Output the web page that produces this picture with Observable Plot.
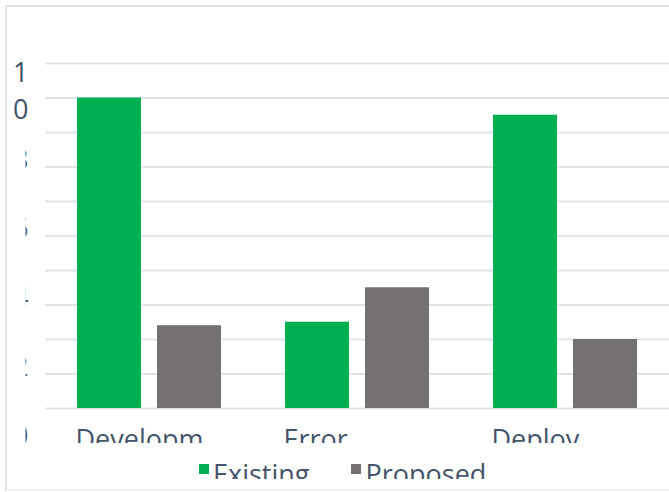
<!DOCTYPE html>
<html>
<head>
<meta charset="utf-8">
<script src="https://cdn.jsdelivr.net/npm/d3@7"></script>
<script src="https://cdn.jsdelivr.net/npm/@observablehq/plot@0.6"></script>
<style>
  html, body { margin: 0; padding: 0; background: #fff; }
  #wrap { position: relative; width: 669px; height: 492px; overflow: hidden; font-family: "Open Sans", sans-serif; color: #44546a; }
  #chart { position: absolute; left: 0; top: 0; width: 669px; height: 443px; overflow: hidden; }
  #frame { position: absolute; left: 5px; top: 5px; width: 700px; height: 482px; border-top: 2px solid #e1e5eb; border-left: 2px solid #e1e5eb; border-bottom: 2px solid #f1f2f4; pointer-events: none; }
  #legend { position: absolute; left: 0; top: 443px; width: 669px; height: 36px; overflow: hidden; display: flex; padding-left: 199px; padding-top: 17px; box-sizing: border-box; font-size: 27px; line-height: 1; }
  .item { display: flex; align-items: flex-start; margin-right: 42px; white-space: nowrap; }
  .sw { width: 10px; height: 10px; margin-top: 4px; margin-right: 4px; flex: none; }
</style>
</head>
<body>
<div id="wrap">
  <div id="chart"></div>
  <div id="legend"></div>
  <div id="frame"></div>
</div>
<script>
// ---- data ----
const categories = ["Developm", "Error", "Deploy"];
const series = ["Existing", "Proposed"];
const existing = [9.0, 2.5, 8.5];
const proposed = [2.4, 3.5, 2.0];
const yTickValues = [10, 8, 6, 4, 2, 0];
const gridValues = [0, 1, 2, 3, 4, 5, 6, 7, 8, 9, 10];
const colors = ["#00b050", "#767171"];

const data = categories.flatMap((c, i) => [
  {category: c, series: series[0], value: existing[i]},
  {category: c, series: series[1], value: proposed[i]}
]);

const chart = Plot.plot({
  width: 669,
  height: 443,
  marginLeft: 44,
  marginRight: 0,
  marginTop: 63,
  marginBottom: 35,
  style: {fontFamily: "'Open Sans', sans-serif", fontSize: "27px", color: "#44546a", background: "transparent", overflow: "hidden"},
  fx: {domain: categories, paddingInner: 0, paddingOuter: 0, label: null},
  x: {domain: series, paddingInner: 0.1975, paddingOuter: 0.386, axis: null},
  y: {domain: [0, 10], label: null},
  color: {domain: series, range: colors},
  marks: [
    Plot.gridY({ticks: gridValues, stroke: "#e1e5eb", strokeOpacity: 1, strokeWidth: 2}),
    Plot.barY(data, {fx: "category", x: "series", y: "value", fill: "series"}),
    Plot.axisY({ticks: yTickValues, tickSize: 0, tickPadding: 17, dy: 25, lineHeight: 1.37, fontSize: 27,
      tickFormat: d => d === 10 ? "1\n0" : String(d), label: null}),
    Plot.axisFx({anchor: "bottom", tickSize: 0, tickPadding: 21, textAnchor: "start", dx: -74, fontSize: 27, label: null})
  ]
});

// labels on the left axis other than the top one are cut to a thin sliver, as in the picture
const svg = d3.select(chart);
svg.insert("defs", ":first-child").append("clipPath").attr("id", "ysliver")
  .append("rect").attr("x", -3).attr("y", -60).attr("width", 8).attr("height", 120);
svg.selectAll('[aria-label="y-axis tick label"] text').each(function() {
  if (this.textContent.length === 1) this.setAttribute("clip-path", "url(#ysliver)");
});

document.getElementById("chart").appendChild(chart);

// legend
const legend = d3.select("#legend");
series.forEach((s, i) => {
  const item = legend.append("div").attr("class", "item");
  item.append("div").attr("class", "sw").style("background", colors[i]);
  item.append("span").text(s);
});
</script>
</body>
</html>
